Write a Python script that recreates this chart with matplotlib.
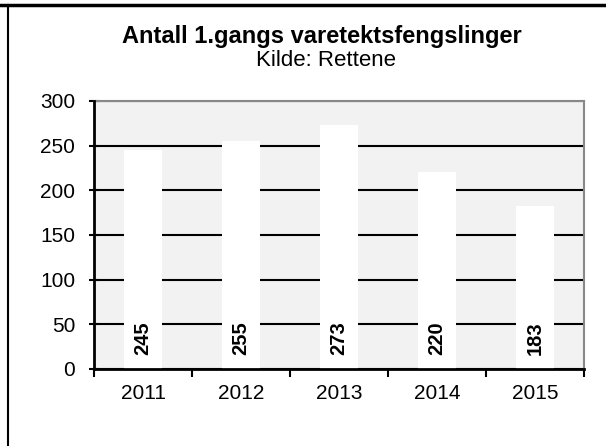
import matplotlib.pyplot as plt
from matplotlib.lines import Line2D

plt.rcParams['font.family'] = ['Liberation Sans', 'DejaVu Sans']

years = ["2011", "2012", "2013", "2014", "2015"]
counts = [245, 255, 273, 220, 183]
yticks = [0, 50, 100, 150, 200, 250, 300]

fig = plt.figure(figsize=(6.06, 4.46), dpi=100)
ax = fig.add_axes([94 / 606, 1 - 369 / 446, 490 / 606, 268 / 446])
ax.set_facecolor("#f2f2f2")

x = range(len(years))
ax.bar(x, counts, width=0.39, color="white", zorder=3)
for xi, v in zip(x, counts):
    ax.text(xi, 35, str(v), rotation=90, ha="center", va="center",
            fontsize=14.5, fontweight="bold", zorder=4)

ax.set_xlim(-0.5, len(years) - 0.5)
ax.set_ylim(0, 300)
ax.set_yticks(yticks)
ax.set_yticklabels([str(t) for t in yticks], fontsize=15)
ax.set_xticks(x)
ax.set_xticklabels(years, fontsize=15)
ax.tick_params(axis="x", length=0, pad=11)
ax.set_xticks([i - 0.5 for i in range(len(years) + 1)], minor=True)
ax.tick_params(axis="x", which="minor", length=6, width=1.5, direction="out")
ax.tick_params(axis="y", length=7, width=1.5, direction="inout", pad=10)

ax.yaxis.grid(True, color="black", linewidth=1.5, zorder=1)
ax.set_axisbelow(True)
for side in ["left", "bottom"]:
    ax.spines[side].set_linewidth(2)
    ax.spines[side].set_color("black")
    ax.spines[side].set_zorder(5)
for side in ["top", "right"]:
    ax.spines[side].set_linewidth(1.5)
    ax.spines[side].set_color("#888888")

fig.text(322 / 606, 1 - 37 / 446, "Antall 1.gangs varetektsfengslinger",
         ha="center", va="center", fontsize=17, fontweight="bold")
fig.text(326 / 606, 1 - 61 / 446, "Kilde: Rettene",
         ha="center", va="center", fontsize=16)

# outer frame: top rule and left edge
fig.add_artist(Line2D([0, 1], [1 - 5 / 446, 1 - 5 / 446], color="black", linewidth=2.5,
                      transform=fig.transFigure))
fig.add_artist(Line2D([8 / 606, 8 / 606], [0, 1 - 5 / 446], color="black", linewidth=1.5,
                      transform=fig.transFigure))

fig.savefig("out.png", dpi=100)
